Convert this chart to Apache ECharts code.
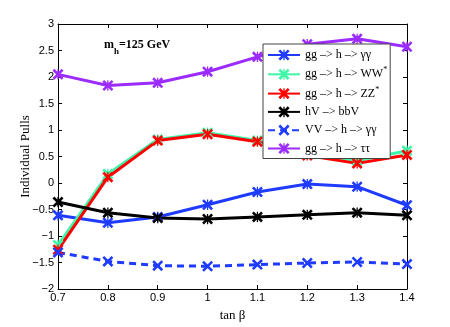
<!DOCTYPE html>
<html>
<head>
<meta charset="utf-8">
<script src="https://cdn.jsdelivr.net/npm/echarts@6/dist/echarts.min.js"></script>
<style>
  html, body { margin: 0; padding: 0; background: #fff; }
  #pulls { width: 450px; height: 327px; }
</style>
</head>
<body>
<div id="pulls"></div>
<script>
// tan beta values along the x axis
var tanBeta = ['0.7', '0.8', '0.9', '1', '1.1', '1.2', '1.3', '1.4']

// individual pulls per channel
var ggGamma = [-0.61, -0.75, -0.64, -0.41, -0.17, -0.02, -0.07, -0.42]
var ggWW    = [-1.17, 0.17, 0.82, 0.95, 0.80, 0.57, 0.42, 0.61]
var ggZZ    = [-1.26, 0.11, 0.80, 0.92, 0.78, 0.52, 0.37, 0.53]
var hVbb    = [-0.36, -0.56, -0.66, -0.68, -0.64, -0.60, -0.56, -0.61]
var vvGamma = [-1.31, -1.48, -1.56, -1.57, -1.54, -1.51, -1.49, -1.53]
var ggTau   = [2.05, 1.84, 1.89, 2.10, 2.38, 2.62, 2.72, 2.57]

var yTicks = [-2, -1.5, -1, -0.5, 0, 0.5, 1, 1.5, 2, 2.5, 3]

// marker shapes
var starMark = 'path://M3.6,0.4L19.6,16.4L16.4,19.6L0.4,3.6Z M16.4,0.4L19.6,3.6L3.6,19.6L0.4,16.4Z M8.9,1L11.1,1L11.1,19L8.9,19Z'
var crossMark = 'path://M3.6,0.4L19.6,16.4L16.4,19.6L0.4,3.6Z M16.4,0.4L19.6,3.6L3.6,19.6L0.4,16.4Z'

var serif = '"Liberation Serif", "DejaVu Serif", serif'
var sans = '"Liberation Sans", Arial, sans-serif'

function minus (v) {
  return String(v).replace('-', '\u2212')
}

function line (name, data, color, dashed) {
  return {
    name: name,
    type: 'line',
    data: data,
    symbol: dashed ? crossMark : starMark,
    symbolSize: 11,
    showAllSymbol: true,
    itemStyle: { color: color },
    lineStyle: { width: 3, color: color, type: dashed ? [7, 5] : 'solid' },
    emphasis: { disabled: true },
    animation: false
  }
}

var chart = echarts.init(document.getElementById('pulls'))
chart.setOption({
  backgroundColor: '#fff',
  animation: false,
  grid: { left: 58, right: 43, top: 24, bottom: 36 },
  legend: {
    orient: 'vertical',
    left: 263,
    top: 44,
    width: 124,
    padding: [4, 3, 3, 4],
    itemGap: 4.3,
    itemWidth: 32,
    itemHeight: 14,
    backgroundColor: '#fff',
    borderColor: '#444',
    borderWidth: 1,
    textStyle: {
      fontFamily: serif,
      fontSize: 12,
      lineHeight: 14,
      color: '#000',
      rich: {
        sup: { fontFamily: serif, fontSize: 8, color: '#000', padding: [0, 0, 8, 0] }
      }
    },
    formatter: function (n) {
      return n.replace('*', '{sup|*}')
    },
    data: [
      'gg \u2013> h \u2013> \u03b3\u03b3',
      'gg \u2013> h \u2013> WW*',
      'gg \u2013> h \u2013> ZZ*',
      'hV \u2013> bbV',
      'VV \u2013> h \u2013> \u03b3\u03b3',
      'gg \u2013> h \u2013> \u03c4\u03c4'
    ]
  },
  xAxis: [{
    type: 'category',
    data: tanBeta,
    boundaryGap: false,
    name: 'tan \u03b2',
    nameLocation: 'middle',
    nameGap: 20,
    nameTextStyle: { fontFamily: serif, fontSize: 13, color: '#000' },
    axisLine: { onZero: false, lineStyle: { color: '#000', width: 1 } },
    axisTick: { inside: true, length: 4, lineStyle: { color: '#000' } },
    axisLabel: { fontFamily: sans, fontSize: 11, color: '#000', margin: 3 },
    splitLine: { show: false }
  }, {
    type: 'category',
    data: tanBeta,
    boundaryGap: false,
    position: 'top',
    axisLine: { onZero: false, lineStyle: { color: '#000', width: 1 } },
    axisTick: { inside: true, length: 4, lineStyle: { color: '#000' } },
    axisLabel: { show: false },
    splitLine: { show: false }
  }],
  yAxis: [{
    type: 'value',
    min: -2,
    max: 3,
    interval: 0.5,
    name: 'Individual Pulls',
    nameLocation: 'middle',
    nameGap: 26,
    nameMoveOverlap: false,
    nameTextStyle: { fontFamily: serif, fontSize: 13, color: '#000' },
    axisLine: { show: true, onZero: false, lineStyle: { color: '#000', width: 1 } },
    axisTick: { show: true, inside: true, length: 4, lineStyle: { color: '#000' } },
    axisLabel: {
      fontFamily: sans, fontSize: 11, color: '#000', margin: 4,
      formatter: function (v) { return yTicks.indexOf(v) >= 0 ? minus(v) : '' }
    },
    splitLine: { show: false }
  }, {
    type: 'value',
    min: -2,
    max: 3,
    interval: 0.5,
    position: 'right',
    axisLine: { show: true, onZero: false, lineStyle: { color: '#000', width: 1 } },
    axisTick: { show: true, inside: true, length: 4, lineStyle: { color: '#000' } },
    axisLabel: { show: false },
    splitLine: { show: false }
  }],
  graphic: [
    { type: 'text', left: 104, top: 39, style: { text: 'm', fontFamily: serif, fontWeight: 'bold', fontSize: 12, fill: '#000' } },
    { type: 'text', left: 114, top: 47, style: { text: 'h', fontFamily: serif, fontWeight: 'bold', fontSize: 9, fill: '#000' } },
    { type: 'text', left: 119, top: 39, style: { text: '=125 GeV', fontFamily: serif, fontWeight: 'bold', fontSize: 12, fill: '#000' } }
  ],
  series: [
    line('gg \u2013> h \u2013> \u03b3\u03b3', ggGamma, '#1f3bff', false),
    line('gg \u2013> h \u2013> WW*', ggWW, '#3ff5a8', false),
    line('gg \u2013> h \u2013> ZZ*', ggZZ, '#ff0000', false),
    line('hV \u2013> bbV', hVbb, '#000000', false),
    line('VV \u2013> h \u2013> \u03b3\u03b3', vvGamma, '#1f3bff', true),
    line('gg \u2013> h \u2013> \u03c4\u03c4', ggTau, '#9b2bff', false)
  ]
})
</script>
</body>
</html>
